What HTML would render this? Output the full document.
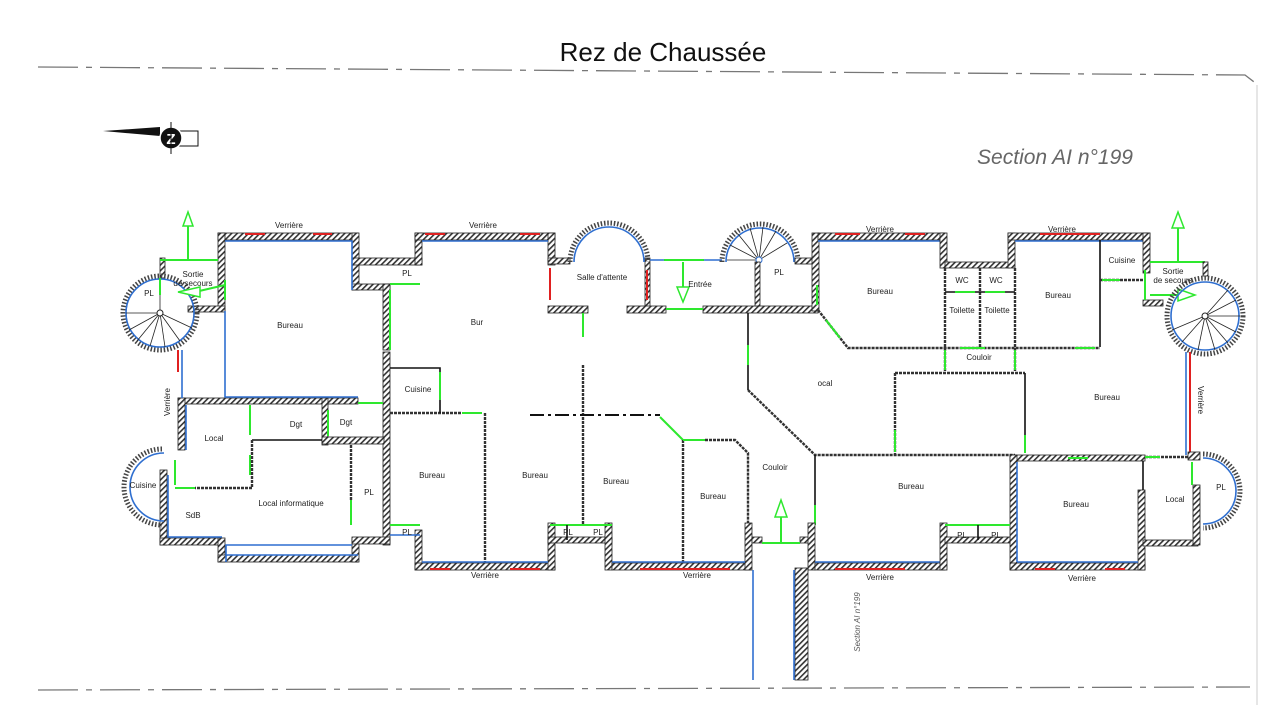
<!DOCTYPE html>
<html><head><meta charset="utf-8"><style>
html,body{margin:0;padding:0;background:#fff;}
svg{display:block;font-family:"Liberation Sans",sans-serif;}
.w{fill:url(#h);stroke:#222;stroke-width:.8}
.b{fill:none;stroke:#2f6fd0;stroke-width:1.6}
.k{fill:none;stroke:#111;stroke-width:1.6}
.kd{fill:none;stroke:#333;stroke-width:2.4;stroke-dasharray:3 1}
.g{fill:none;stroke:#2ee82e;stroke-width:2}
.r{fill:none;stroke:#e02020;stroke-width:2}
.t{font-size:8px;fill:#222;text-anchor:middle}
</style></head><body>
<svg width="1280" height="720" viewBox="0 0 1280 720" xmlns="http://www.w3.org/2000/svg">
<defs>
<pattern id="h" width="4" height="4" patternUnits="userSpaceOnUse" patternTransform="rotate(45)">
<rect width="4" height="4" fill="#fff"/><rect width="1.6" height="4" fill="#333"/></pattern>
</defs>
<polyline points="38,67 1245,75 1258,85" fill="none" stroke="#777" stroke-width="1.3" stroke-dasharray="40 8 6 8"/>
<line x1="1257" y1="85" x2="1257" y2="705" stroke="#ccc" stroke-width="1"/>
<line x1="38" y1="690" x2="1250" y2="687" stroke="#777" stroke-width="1.3" stroke-dasharray="40 8 6 8"/>
<text x="663" y="61" font-size="26" text-anchor="middle" fill="#111">Rez de Chaussée</text>
<text x="1055" y="164" font-size="21" font-style="italic" text-anchor="middle" fill="#666">Section AI n°199</text>
<text transform="translate(860,622) rotate(-90)" font-size="8" font-style="italic" text-anchor="middle" fill="#555">Section AI n°199</text>
<polygon points="103,131 160,127 160,136" fill="#111"/>
<rect x="178" y="131" width="20" height="15" fill="#fff" stroke="#111"/>
<circle cx="171" cy="138" r="11" fill="#111" stroke="#fff" stroke-width="1.5"/>
<text x="171" y="144" font-size="15" font-weight="bold" fill="#fff" text-anchor="middle">Z</text>
<line x1="171" y1="122" x2="171" y2="154" stroke="#111"/>

<rect class="w" x="218" y="233" width="140" height="7"/>
<rect class="w" x="218" y="233" width="7" height="78"/>
<rect class="w" x="352" y="233" width="7" height="57"/>
<rect class="w" x="352" y="258" width="70" height="7"/>
<rect class="w" x="352" y="284" width="38" height="6"/>
<rect class="w" x="383" y="284" width="7" height="66"/>
<rect class="w" x="383" y="352" width="7" height="193"/>
<rect class="w" x="178" y="398" width="180" height="6"/>
<rect class="w" x="178" y="398" width="7" height="52"/>
<rect class="w" x="322" y="398" width="6" height="47"/>
<rect class="w" x="322" y="437" width="62" height="7"/>
<rect class="w" x="160" y="470" width="7" height="75"/>
<rect class="w" x="160" y="538" width="62" height="7"/>
<rect class="w" x="218" y="538" width="7" height="24"/>
<rect class="w" x="218" y="555" width="140" height="7"/>
<rect class="w" x="352" y="538" width="7" height="24"/>
<rect class="w" x="352" y="537" width="38" height="7"/>
<rect class="w" x="160" y="258" width="5" height="20"/>
<rect class="w" x="188" y="306" width="37" height="6"/>
<circle cx="160" cy="313" r="37" fill="none" stroke="#444" stroke-width="5" stroke-dasharray="1.5 1.8"/>
<circle cx="160" cy="313" r="34" class="b"/>
<g stroke="#222" stroke-width=".8">
<line x1="160" y1="313" x2="126" y2="313"/><line x1="160" y1="313" x2="129" y2="330"/><line x1="160" y1="313" x2="137" y2="341"/><line x1="160" y1="313" x2="150" y2="346"/><line x1="160" y1="313" x2="165" y2="347"/><line x1="160" y1="313" x2="180" y2="341"/><line x1="160" y1="313" x2="192" y2="328"/><line x1="160" y1="313" x2="160" y2="290"/></g>
<circle cx="160" cy="313" r="3" fill="#fff" stroke="#222"/>
<path d="M162,449 A38,38 0 0 0 162,525" fill="none" stroke="#444" stroke-width="5" stroke-dasharray="1.5 1.8"/>
<path d="M164,453 A34,34 0 0 0 164,521" class="b"/>
<polyline class="b" points="225,241 352,241 352,290"/>
<polyline class="b" points="225,311 225,397 358,397"/>
<polyline class="b" points="186,405 186,450"/>
<polyline class="b" points="226,562 226,545 352,545"/>
<polyline class="b" points="168,475 168,537 222,537"/>
<polyline class="b" points="226,555 358,555"/>
<line class="r" x1="245" y1="234" x2="265" y2="234"/><line class="r" x1="313" y1="234" x2="332" y2="234"/>
<line class="b" x1="182" y1="350" x2="182" y2="398"/><line class="r" x1="178" y1="350" x2="178" y2="372"/>
<polyline class="g" points="160,260 218,260"/><line class="g" x1="188" y1="260" x2="188" y2="222"/>
<polygon points="183,226 188,212 193,226" fill="#fff" stroke="#2ee82e" stroke-width="1.5"/>
<line class="g" x1="160" y1="278" x2="160" y2="295"/>
<line class="g" x1="225" y1="285" x2="195" y2="292"/>
<polygon points="200,287 178,292 200,297" fill="#fff" stroke="#2ee82e" stroke-width="1.5"/>
<line class="g" x1="225" y1="280" x2="225" y2="300"/>
<line class="g" x1="390" y1="290" x2="390" y2="350"/>
<line class="g" x1="390" y1="284" x2="420" y2="284"/>
<line class="g" x1="250" y1="405" x2="250" y2="435"/><line class="g" x1="250" y1="455" x2="250" y2="475"/>
<line class="g" x1="328" y1="410" x2="328" y2="436"/>
<line class="g" x1="175" y1="460" x2="175" y2="485"/>
<line class="g" x1="175" y1="488" x2="195" y2="488"/>
<line class="g" x1="358" y1="403" x2="383" y2="403"/>
<line class="g" x1="351" y1="500" x2="351" y2="525"/>
<polyline class="k" points="252,440 322,440"/>
<polyline class="kd" points="252,440 252,488 195,488"/>
<polyline class="kd" points="351,445 351,500"/>
<rect class="w" x="415" y="233" width="7" height="32"/>
<rect class="w" x="415" y="233" width="140" height="7"/>
<rect class="w" x="548" y="233" width="7" height="32"/>
<rect class="w" x="548" y="258" width="22" height="6"/>
<rect class="w" x="645" y="258" width="5" height="50"/>
<path d="M570,262 A39,39 0 0 1 648,262" fill="none" stroke="#444" stroke-width="5" stroke-dasharray="1.5 1.8"/>
<path d="M574,262 A35,35 0 0 1 644,262" class="b"/>
<rect class="w" x="548" y="306" width="40" height="7"/>
<rect class="w" x="627" y="306" width="39" height="7"/>
<rect class="w" x="703" y="306" width="115" height="7"/>
<line class="r" x1="550" y1="268" x2="550" y2="300"/><line class="r" x1="647" y1="270" x2="647" y2="300"/>
<line class="b" x1="422" y1="241" x2="548" y2="241"/>
<line class="r" x1="425" y1="234" x2="445" y2="234"/><line class="r" x1="520" y1="234" x2="540" y2="234"/>
<line class="b" x1="650" y1="260" x2="722" y2="260"/><line class="g" x1="664" y1="260" x2="704" y2="260"/>
<line class="g" x1="666" y1="309" x2="703" y2="309"/>
<line class="g" x1="683" y1="262" x2="683" y2="290"/>
<polygon points="677,287 683,302 689,287" fill="#fff" stroke="#2ee82e" stroke-width="1.5"/>
<path d="M722,262 A38,38 0 0 1 798,262" fill="none" stroke="#444" stroke-width="5" stroke-dasharray="1.5 1.8"/>
<path d="M726,262 A34,34 0 0 1 794,262" class="b"/>
<g stroke="#222" stroke-width=".8"><line x1="759" y1="260" x2="727" y2="260"/><line x1="759" y1="260" x2="730" y2="245"/><line x1="759" y1="260" x2="738" y2="234"/><line x1="759" y1="260" x2="750" y2="228"/><line x1="759" y1="260" x2="763" y2="227"/><line x1="759" y1="260" x2="776" y2="231"/><line x1="759" y1="260" x2="787" y2="243"/></g>
<circle cx="759" cy="260" r="3" fill="#fff" stroke="#2f6fd0"/>
<rect class="w" x="755" y="262" width="5" height="44"/>
<rect class="w" x="795" y="258" width="20" height="6"/>
<rect class="w" x="812" y="233" width="7" height="78"/>
<line class="g" x1="817" y1="285" x2="817" y2="305"/>
<line class="g" x1="583" y1="313" x2="583" y2="337"/>
<line class="kd" x1="583" y1="365" x2="583" y2="525"/>
<line x1="530" y1="415" x2="660" y2="415" stroke="#111" stroke-width="2" stroke-dasharray="14 4 3 4"/>
<polyline class="kd" points="390,413 462,413"/><line class="g" x1="462" y1="413" x2="482" y2="413"/>
<polyline class="kd" points="485,413 485,565"/>
<polyline class="k" points="390,368 440,368 440,413"/><line class="g" x1="440" y1="372" x2="440" y2="400"/>
<line class="g" x1="660" y1="417" x2="683" y2="440"/>
<polyline class="kd" points="683,440 683,565"/>
<line class="g" x1="683" y1="440" x2="705" y2="440"/>
<polyline class="kd" points="705,440 735,440 748,453 748,525"/>
<polyline class="k" points="748,313 748,390"/><line class="g" x1="748" y1="345" x2="748" y2="365"/>
<polyline class="kd" points="748,390 815,455 1015,455"/>
<polyline class="k" points="815,455 815,525"/><line class="g" x1="815" y1="505" x2="815" y2="525"/>
<rect class="w" x="415" y="530" width="7" height="40"/>
<rect class="w" x="415" y="563" width="140" height="7"/>
<rect class="w" x="548" y="523" width="7" height="47"/>
<rect class="w" x="548" y="537" width="64" height="6"/>
<rect class="w" x="605" y="523" width="7" height="47"/>
<rect class="w" x="612" y="563" width="138" height="7"/>
<rect class="w" x="745" y="523" width="7" height="47"/>
<rect class="w" x="752" y="537" width="10" height="6"/>
<rect class="w" x="800" y="537" width="10" height="6"/>
<rect class="w" x="808" y="523" width="7" height="47"/>
<rect class="w" x="815" y="563" width="130" height="7"/>
<rect class="w" x="795" y="568" width="13" height="112"/>
<line class="b" x1="753" y1="570" x2="753" y2="680"/><line class="b" x1="794" y1="570" x2="794" y2="680"/>
<line class="b" x1="422" y1="562" x2="548" y2="562"/><line class="b" x1="612" y1="562" x2="745" y2="562"/><line class="b" x1="815" y1="562" x2="945" y2="562"/>
<line class="r" x1="430" y1="569" x2="450" y2="569"/><line class="r" x1="510" y1="569" x2="540" y2="569"/>
<line class="r" x1="640" y1="569" x2="730" y2="569"/><line class="r" x1="835" y1="569" x2="905" y2="569"/>
<line class="g" x1="550" y1="525" x2="612" y2="525"/><line class="g" x1="390" y1="525" x2="420" y2="525"/>
<line class="g" x1="762" y1="543" x2="800" y2="543"/><line class="g" x1="781" y1="543" x2="781" y2="515"/>
<polygon points="775,517 781,500 787,517" fill="#fff" stroke="#2ee82e" stroke-width="1.5"/>
<line class="b" x1="390" y1="535" x2="420" y2="535"/><line class="k" x1="567" y1="525" x2="567" y2="540"/>
<rect class="w" x="818" y="233" width="127" height="7"/>
<line class="b" x1="818" y1="241" x2="940" y2="241"/>
<line class="r" x1="835" y1="234" x2="860" y2="234"/><line class="r" x1="905" y1="234" x2="925" y2="234"/>
<rect class="w" x="940" y="233" width="7" height="35"/>
<rect class="w" x="945" y="262" width="65" height="6"/>
<rect class="w" x="1008" y="233" width="7" height="35"/>
<rect class="w" x="1008" y="233" width="142" height="7"/>
<line class="b" x1="1015" y1="241" x2="1145" y2="241"/>
<line class="r" x1="1040" y1="234" x2="1100" y2="234"/>
<rect class="w" x="1143" y="233" width="7" height="40"/>
<line class="k" x1="1100" y1="240" x2="1100" y2="347"/>
<line class="kd" x1="1100" y1="280" x2="1145" y2="280"/><line class="g" x1="1102" y1="280" x2="1120" y2="280"/>
<polyline class="kd" points="818,310 848,348 1100,348"/>
<line class="g" x1="826" y1="320" x2="840" y2="338"/>
<line class="g" x1="960" y1="348" x2="985" y2="348"/><line class="g" x1="1075" y1="348" x2="1095" y2="348"/>
<line class="kd" x1="945" y1="268" x2="945" y2="372"/><line class="kd" x1="980" y1="268" x2="980" y2="348"/><line class="kd" x1="1015" y1="268" x2="1015" y2="372"/>
<line class="k" x1="945" y1="292" x2="1015" y2="292"/><line class="g" x1="955" y1="292" x2="975" y2="292"/><line class="g" x1="985" y1="292" x2="1005" y2="292"/>
<line class="g" x1="945" y1="350" x2="945" y2="370"/><line class="g" x1="1015" y1="350" x2="1015" y2="370"/>
<polyline class="kd" points="895,373 1025,373"/>
<polyline class="k" points="1025,373 1025,435"/><line class="g" x1="1025" y1="435" x2="1025" y2="453"/>
<polyline class="kd" points="895,373 895,455"/><line class="g" x1="895" y1="430" x2="895" y2="452"/>
<rect class="w" x="1143" y="300" width="20" height="6"/>
<line class="g" x1="1150" y1="262" x2="1205" y2="262"/><line class="g" x1="1178" y1="262" x2="1178" y2="225"/>
<polygon points="1172,228 1178,212 1184,228" fill="#fff" stroke="#2ee82e" stroke-width="1.5"/>
<line class="g" x1="1150" y1="295" x2="1180" y2="295"/>
<polygon points="1178,289 1195,295 1178,301" fill="#fff" stroke="#2ee82e" stroke-width="1.5"/>
<line class="g" x1="1145" y1="270" x2="1145" y2="300"/>
<rect class="w" x="1203" y="262" width="5" height="14"/>
<circle cx="1205" cy="316" r="38" fill="none" stroke="#444" stroke-width="5" stroke-dasharray="1.5 1.8"/>
<circle cx="1205" cy="316" r="34" class="b"/>
<g stroke="#222" stroke-width=".8"><line x1="1205" y1="316" x2="1240" y2="316"/><line x1="1205" y1="316" x2="1236" y2="300"/><line x1="1205" y1="316" x2="1228" y2="290"/><line x1="1205" y1="316" x2="1236" y2="332"/><line x1="1205" y1="316" x2="1228" y2="343"/><line x1="1205" y1="316" x2="1215" y2="350"/><line x1="1205" y1="316" x2="1198" y2="350"/><line x1="1205" y1="316" x2="1182" y2="342"/><line x1="1205" y1="316" x2="1172" y2="330"/></g>
<circle cx="1205" cy="316" r="3" fill="#fff" stroke="#222"/>
<line x1="1186" y1="352" x2="1186" y2="455" stroke="#2f6fd0" stroke-width="1.6"/>
<line class="r" x1="1190" y1="352" x2="1190" y2="455"/>
<rect class="w" x="1010" y="455" width="135" height="6"/>
<line class="g" x1="1068" y1="458" x2="1088" y2="458"/>
<rect class="w" x="1010" y="455" width="7" height="115"/>
<rect class="w" x="1010" y="563" width="135" height="7"/>
<rect class="w" x="1138" y="490" width="7" height="80"/>
<line class="b" x1="1017" y1="462" x2="1017" y2="562"/><line class="b" x1="1017" y1="562" x2="1138" y2="562"/>
<line class="r" x1="1035" y1="569" x2="1055" y2="569"/><line class="r" x1="1105" y1="569" x2="1125" y2="569"/>
<line class="k" x1="1143" y1="461" x2="1143" y2="490"/>
<line class="kd" x1="1145" y1="457" x2="1195" y2="457"/><line class="g" x1="1145" y1="457" x2="1160" y2="457"/>
<rect class="w" x="1143" y="540" width="55" height="6"/>
<rect class="w" x="1193" y="485" width="7" height="60"/>
<rect class="w" x="1188" y="452" width="12" height="8"/>
<line class="g" x1="1192" y1="462" x2="1192" y2="485"/>
<path d="M1203,454 A37,37 0 0 1 1203,528" fill="none" stroke="#444" stroke-width="5" stroke-dasharray="1.5 1.8"/>
<path d="M1203,458 A33,33 0 0 1 1203,524" class="b"/>
<rect class="w" x="940" y="523" width="7" height="47"/>
<rect class="w" x="945" y="537" width="65" height="6"/>
<line class="g" x1="945" y1="525" x2="1010" y2="525"/>
<line class="k" x1="978" y1="525" x2="978" y2="540"/>

<g class="t">
<text x="289" y="228">Verrière</text><text x="483" y="228">Verrière</text><text x="880" y="232">Verrière</text><text x="1062" y="232">Verrière</text>
<text x="485" y="578">Verrière</text><text x="697" y="578">Verrière</text><text x="880" y="580">Verrière</text><text x="1082" y="581">Verrière</text>
<text transform="translate(170,402) rotate(-90)">Verrière</text>
<text transform="translate(1198,400) rotate(90)">Verrière</text>
<text x="193" y="277">Sortie</text><text x="193" y="286">de secours</text>
<text x="149" y="296">PL</text><text x="290" y="328">Bureau</text><text x="407" y="276">PL</text><text x="477" y="325">Bur</text>
<text x="602" y="280">Salle d'attente</text><text x="700" y="287">Entrée</text><text x="779" y="275">PL</text>
<text x="880" y="294">Bureau</text><text x="962" y="283">WC</text><text x="996" y="283">WC</text>
<text x="962" y="313">Toilette</text><text x="997" y="313">Toilette</text><text x="1058" y="298">Bureau</text>
<text x="1122" y="263">Cuisine</text><text x="1173" y="274">Sortie</text><text x="1173" y="283">de secours</text>
<text x="979" y="360">Couloir</text><text x="1107" y="400">Bureau</text><text x="825" y="386">ocal</text>
<text x="418" y="392">Cuisine</text><text x="296" y="427">Dgt</text><text x="346" y="425">Dgt</text><text x="214" y="441">Local</text>
<text x="143" y="488">Cuisine</text><text x="193" y="518">SdB</text><text x="291" y="506">Local informatique</text><text x="369" y="495">PL</text>
<text x="432" y="478">Bureau</text><text x="535" y="478">Bureau</text><text x="616" y="484">Bureau</text><text x="713" y="499">Bureau</text>
<text x="775" y="470">Couloir</text><text x="911" y="489">Bureau</text><text x="1076" y="507">Bureau</text><text x="1175" y="502">Local</text><text x="1221" y="490">PL</text>
<text x="407" y="535">PL</text><text x="568" y="535">PL</text><text x="598" y="535">PL</text><text x="962" y="538">PL</text><text x="996" y="538">PL</text>
</g>
</svg>
</body></html>
